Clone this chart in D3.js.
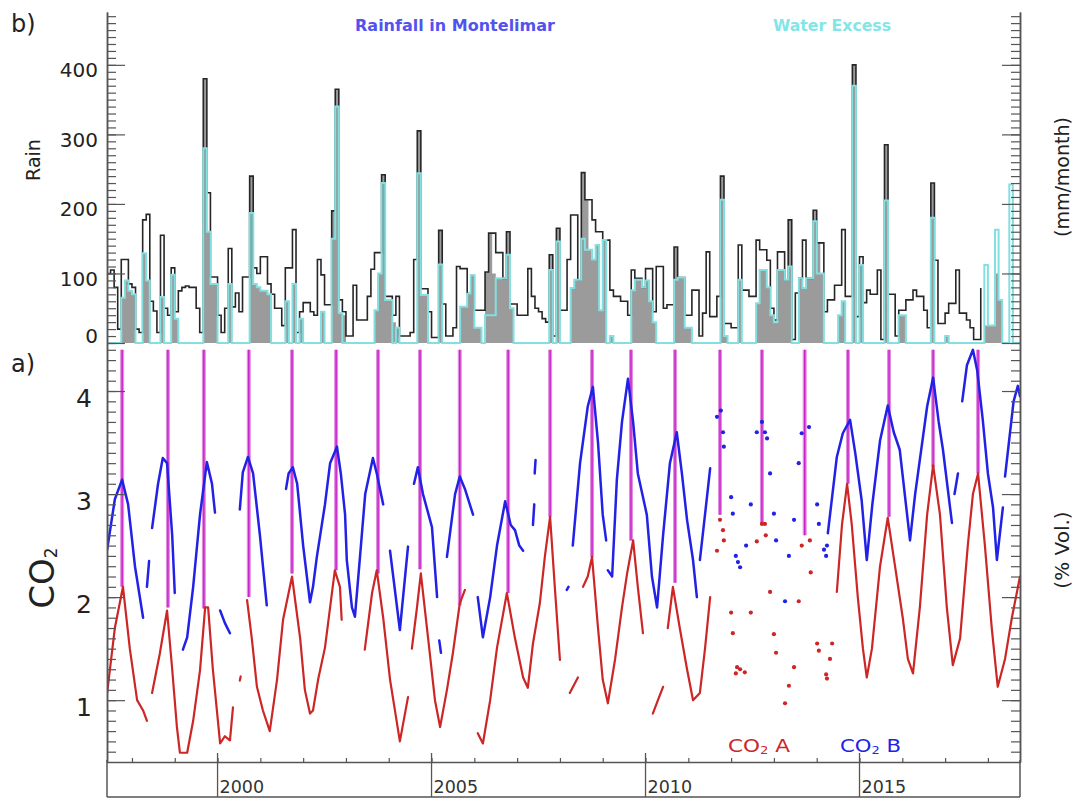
<!DOCTYPE html>
<html><head><meta charset="utf-8">
<script src="https://cdn.jsdelivr.net/npm/d3@7"></script>
<style>
body{margin:0;background:#fff}
svg{display:block}
text{font-family:"DejaVu Sans",Lato,sans-serif}
</style>
</head><body>
<svg id="c" width="1075" height="799"></svg>
<script>
// ---------------- DATA ----------------
// monthly rainfall at Montelimar, starting June 1997 (mm/month)
const rainStart = 1997 + 5/12;
const rain = [
 100,105,80,20,120,120,85,
 80,20,15,177,185,60,46,15,155,50,40,108,
 45,75,80,82,80,80,50,15,380,216,95,95,
 40,15,50,136,52,72,45,95,95,240,108,100,
 124,124,85,70,50,50,25,108,108,163,15,45,
 58,58,45,40,120,98,55,55,190,365,62,45,
 10,10,83,33,33,33,67,106,130,130,242,67,
 67,40,67,10,10,10,15,120,305,78,78,45,
 8,8,162,56,10,10,22,110,107,107,71,97,
 47,47,47,102,158,158,130,130,93,160,56,56,
 40,40,40,107,67,50,45,35,30,127,10,165,
 47,47,120,184,184,91,245,206,206,177,160,160,
 148,148,76,67,67,60,60,40,105,93,93,80,
 107,107,45,110,110,50,55,55,138,94,94,40,
 40,76,76,10,43,131,38,38,67,240,28,28,
 22,22,141,76,76,67,67,148,134,134,119,50,
 33,131,131,91,177,5,72,93,148,93,93,191,
 144,144,45,62,62,83,83,163,67,67,400,38,
 124,58,76,70,70,105,5,285,70,70,10,47,
 47,62,62,76,67,67,47,22,230,119,28,28,
 43,57,57,105,43,43,33,22,5,5,79,null,
 null,null,null,null,null,null,null,null,null
];
// monthly water excess (mm/month)
const excess = [
 0,0,0,0,65,90,75,
 70,0,0,129,90,0,0,0,66,0,0,98,
 35,0,0,0,0,0,0,0,280,160,85,85,
 0,0,0,85,0,0,0,0,0,187,85,80,
 75,75,70,0,0,0,0,60,0,85,0,35,
 0,0,0,0,0,45,0,0,150,340,43,0,
 0,0,0,0,0,0,0,0,47,100,230,62,
 62,0,22,0,0,0,0,0,244,69,69,0,
 0,0,113,0,0,0,0,0,52,52,71,97,
 22,22,0,40,40,40,93,93,93,127,50,0,
 0,0,0,0,0,0,0,0,0,105,0,146,
 0,0,0,79,91,91,150,134,134,120,141,47,
 148,0,10,0,0,0,0,0,76,91,91,80,
 90,60,30,0,0,0,0,0,91,94,94,22,
 22,0,0,0,0,0,0,0,0,206,10,0,
 0,0,91,0,0,0,0,57,105,105,80,40,
 30,105,105,91,110,0,0,93,79,93,93,175,
 100,100,0,0,0,0,40,60,0,0,370,0,
 112,0,0,0,0,0,0,205,0,0,0,40,
 40,0,0,0,0,0,0,0,180,0,0,0,
 10,0,0,0,0,0,0,0,0,0,0,112,
 25,25,163,62,0,0,228,0,0
];
// grey shaded part (mm/month)
const shaded = [
 0,0,0,0,65,90,75,
 70,0,0,129,90,0,0,0,66,0,0,98,
 35,0,0,0,0,0,0,0,380,160,85,85,
 0,0,0,85,0,0,0,0,0,240,85,80,
 75,75,70,0,0,0,0,60,0,85,0,35,
 0,0,0,0,0,45,0,0,190,365,43,40,
 0,0,0,0,0,0,0,0,47,100,242,62,
 62,30,22,0,0,0,0,0,305,69,69,0,
 0,0,162,0,0,0,0,0,52,52,71,97,
 22,22,0,102,158,100,93,93,93,160,50,0,
 0,0,0,0,0,0,0,0,0,127,0,165,
 0,0,0,79,91,91,245,206,134,120,141,47,
 148,0,10,0,0,0,0,0,76,91,91,80,
 90,60,30,0,0,0,0,0,138,94,94,22,
 22,0,0,0,0,0,0,0,0,240,10,0,
 0,0,91,0,0,0,0,57,105,105,80,40,
 30,105,105,91,177,0,0,93,79,93,93,191,
 144,100,0,0,0,0,40,60,0,0,400,0,
 112,0,0,0,0,0,0,285,0,0,0,40,
 40,0,0,0,0,0,0,0,230,0,0,0,
 10,0,0,0,0,0,0,0,0,0,0,25,
 25,25,100,62,0,0,0,0,0
];

// CO2 B (% vol.), [decimal year, value], null = gap
const co2B = [
 [1997.42,2.46],[1997.60,2.95],[1997.77,3.14],[1997.91,2.9],[1998.07,2.3],[1998.26,1.80],null,
 [1998.35,2.1],[1998.40,2.35],null,
 [1998.47,2.67],[1998.61,3.1],[1998.72,3.35],[1998.82,3.3],[1998.94,2.6],[1999.00,2.04],null,
 [1999.19,1.49],[1999.29,1.61],[1999.43,2.1],[1999.59,2.8],[1999.75,3.31],[1999.87,3.1],[1999.94,2.82],null,
 [2000.06,1.87],[2000.17,1.75],[2000.29,1.65],null,
 [2000.52,2.85],[2000.59,3.21],[2000.71,3.36],[2000.83,3.2],[2000.99,2.6],[2001.15,1.92],null,
 [2001.60,3.05],[2001.66,3.2],[2001.76,3.26],[2001.86,3.1],[2002.00,2.5],[2002.16,1.95],[2002.23,2.1],[2002.32,2.39],
 [2002.51,2.9],[2002.63,3.3],[2002.79,3.46],[2002.88,3.2],[2002.98,2.8],[2003.02,2.36],[2003.14,1.9],[2003.21,1.81],
 [2003.33,2.4],[2003.45,3.0],[2003.63,3.35],[2003.72,3.2],[2003.87,2.9],null,
 [2004.03,2.45],[2004.26,1.68],[2004.45,2.49],null,
 [2004.59,3.1],[2004.68,3.26],[2004.80,3.0],[2005.01,2.68],[2005.13,2.0],null,
 [2005.18,1.58],[2005.22,1.46],null,
 [2005.36,2.39],[2005.55,3.0],[2005.66,3.17],[2005.78,3.05],[2005.97,2.8],null,
 [2006.08,2.0],[2006.20,1.61],[2006.37,2.0],[2006.53,2.5],[2006.72,2.93],[2006.85,2.7],[2006.95,2.65],[2007.05,2.5],[2007.14,2.45],null,
 [2007.37,2.7],[2007.40,2.9],null,
 [2007.41,3.2],[2007.43,3.33],null,
 [2008.16,2.07],[2008.20,2.1],null,
 [2008.30,2.5],[2008.47,3.3],[2008.65,3.85],[2008.77,4.04],[2008.89,3.5],[2009.00,2.8],[2009.08,2.55],null,
 [2009.12,2.26],[2009.22,2.2],[2009.33,3.14],[2009.45,3.7],[2009.59,4.12],[2009.71,3.7],[2009.82,3.2],[2010.03,2.8],
 [2010.15,2.2],[2010.27,1.9],[2010.41,2.6],[2010.57,3.3],[2010.73,3.6],[2010.85,3.2],[2010.97,2.75],[2011.11,2.36],[2011.20,2.0],null,
 [2011.27,2.36],[2011.39,2.8],[2011.51,3.25],null,
 [2014.26,2.62],[2014.47,3.36],[2014.61,3.59],[2014.78,3.72],[2014.90,3.4],[2015.05,2.94],[2015.17,2.36],[2015.30,2.9],
 [2015.48,3.52],[2015.66,3.86],[2015.80,3.6],[2015.94,3.43],[2016.18,2.55],[2016.30,3.0],[2016.58,3.85],[2016.72,4.13],
 [2016.85,3.7],[2016.95,3.43],[2017.16,2.72],null,
 [2017.22,3.0],[2017.30,3.2],null,
 [2017.40,3.9],[2017.51,4.25],[2017.65,4.4],[2017.75,4.2],[2017.88,3.72],[2018.00,3.2],[2018.12,2.87],[2018.21,2.36],[2018.35,2.87],null,
 [2018.40,3.17],[2018.60,3.9],[2018.70,4.05],[2018.75,3.95]
];
// CO2 A (% vol.)
const co2A = [
 [1997.42,1.07],[1997.60,1.7],[1997.79,2.1],[1997.95,1.5],[1998.12,1.0],[1998.26,0.9],[1998.35,0.8],null,
 [1998.47,1.07],[1998.65,1.45],[1998.82,1.87],[1998.94,1.3],[1999.05,0.74],[1999.12,0.49],[1999.29,0.49],[1999.43,0.8],
 [1999.59,1.29],[1999.71,1.9],[1999.78,1.9],[1999.89,1.3],[2000.06,0.58],[2000.17,0.65],[2000.29,0.61],[2000.36,0.93],null,
 [2000.52,1.19],[2000.54,1.23],null,
 [2000.69,1.97],[2000.80,1.6],[2000.92,1.13],[2001.06,0.9],[2001.22,0.7],[2001.39,1.2],[2001.53,1.78],[2001.74,2.2],
 [2001.93,1.6],[2002.04,1.1],[2002.16,0.87],[2002.23,0.9],[2002.35,1.2],[2002.51,1.51],[2002.74,2.26],[2002.86,2.1],[2002.90,1.78],null,
 [2003.44,1.49],[2003.61,2.04],[2003.72,2.26],[2003.87,1.8],[2004.03,1.2],[2004.26,0.6],[2004.45,1.03],null,
 [2004.54,1.5],[2004.66,1.9],[2004.75,2.23],[2004.92,1.6],[2005.08,1.0],[2005.20,0.74],[2005.36,1.1],[2005.50,1.46],
 [2005.66,1.94],[2005.78,2.07],null,
 [2006.08,0.68],[2006.20,0.58],[2006.37,1.0],[2006.53,1.51],[2006.76,2.04],[2006.95,1.6],[2007.14,1.22],[2007.25,1.12],
 [2007.37,1.55],[2007.53,1.94],[2007.65,2.4],[2007.77,2.78],[2007.88,2.1],[2008.00,1.39],null,
 [2008.23,1.07],[2008.42,1.22],null,
 [2008.54,2.1],[2008.65,2.2],[2008.75,2.39],[2008.89,1.7],[2009.00,1.2],[2009.12,0.97],[2009.29,1.4],[2009.45,1.9],
 [2009.57,2.23],[2009.71,2.55],[2009.82,2.1],[2009.94,1.65],null,
 [2010.17,0.87],[2010.29,1.0],[2010.41,1.13],null,
 [2010.52,1.7],[2010.64,2.1],[2010.80,1.7],[2010.97,1.3],[2011.11,1.0],[2011.27,1.07],[2011.39,1.5],[2011.51,2.0],null,
 [2014.47,2.05],[2014.59,2.7],[2014.71,3.1],[2014.82,2.7],[2014.96,2.0],[2015.08,1.5],[2015.17,1.22],[2015.29,1.5],
 [2015.48,2.3],[2015.66,2.77],[2015.83,2.3],[2016.01,1.8],[2016.13,1.4],[2016.25,1.26],[2016.41,1.9],[2016.58,2.8],
 [2016.72,3.28],[2016.88,2.8],[2017.04,1.9],[2017.18,1.34],[2017.35,1.6],[2017.53,2.5],[2017.65,3.0],[2017.77,3.2],
 [2017.93,2.5],[2018.09,1.7],[2018.23,1.13],[2018.40,1.4],[2018.56,1.8],[2018.75,2.2]
];
// sparse measurements 2011-2014
const co2AScatter = [
 [2011.74,2.75],[2011.81,2.65],[2011.83,2.55],[2011.67,2.45],[2012.00,1.85],[2012.04,1.65],[2012.14,1.32],[2012.11,1.26],
 [2012.32,1.27],[2012.21,1.30],[2012.46,1.85],[2012.60,2.54],[2012.72,2.71],[2012.79,2.71],[2012.81,2.60],[2012.91,2.05],
 [2013.00,1.64],[2013.05,1.46],[2013.26,0.97],[2013.35,1.14],[2013.47,1.32],[2013.58,1.96],[2013.65,2.50],[2013.84,2.55],
 [2013.86,2.24],[2014.01,1.55],[2014.05,1.48],[2014.22,1.25],[2014.24,1.21],[2014.31,1.40],[2014.36,1.55]
];
const co2BScatter = [
 [2011.67,3.75],[2011.76,3.81],[2011.81,3.60],[2011.83,3.46],[2012.00,2.97],[2012.04,2.81],[2012.11,2.40],[2012.16,2.34],
 [2012.21,2.29],[2012.35,2.50],[2012.46,2.90],[2012.60,3.60],[2012.72,3.70],[2012.79,3.60],[2012.84,3.54],[2012.91,3.20],
 [2013.00,2.81],[2013.05,2.55],[2013.26,1.96],[2013.35,2.40],[2013.47,2.75],[2013.58,3.30],[2013.65,3.59],[2013.82,3.65],
 [2014.01,2.90],[2014.05,2.71],[2014.17,2.46],[2014.22,2.40],[2014.24,2.50]
];
// autumn marker lines: date and lower end (CO2 A value)
const markerDates = [1997.77,1998.84,1999.68,2000.73,2001.74,2002.77,2003.75,2004.73,2005.66,2006.79,2007.77,
                     2008.75,2009.66,2010.69,2011.74,2012.72,2013.72,2014.73,2015.69,2016.72,2017.77];
const markerEnds  = [2.1,1.9,1.89,2.0,2.23,2.26,2.23,2.27,1.92,2.04,2.78,2.39,2.55,2.14,2.8,2.72,2.6,3.1,2.78,3.26,3.2];
const markerTop = 4.40;

const rainTicks = [0,100,200,300,400];
const co2Ticks = [1,2,3,4];
const yearLabels = [2000,2005,2010,2015];

// ---------------- CHART ----------------
const svg = d3.select("#c");
const X0 = 107, X1 = 1020;
const x = d3.scaleLinear().domain([1997.4167, 2018.75]).range([X0, X1]);
const yR = d3.scaleLinear().domain([0, 476]).range([343, 12]);
const yC = d3.scaleLinear().domain([0.4, 4.466]).range([762, 343]);
const axisCol = "#555";
const FONT = "'DejaVu Sans', Lato, sans-serif";

svg.append("clipPath").attr("id","ct").append("rect").attr("x",X0).attr("y",0).attr("width",X1-X0).attr("height",346);
svg.append("clipPath").attr("id","cb").append("rect").attr("x",X0).attr("y",345).attr("width",X1-X0).attr("height",417);

// ---- top panel: rainfall ----
const n = rain.length;
const mk = arr => d3.range(n+1).map(i => ({t: rainStart + i/12, v: i < n ? arr[i] : arr[n-1]}));
const gT = svg.append("g").attr("clip-path","url(#ct)");
gT.append("path").datum(mk(shaded))
  .attr("d", d3.area().curve(d3.curveStepAfter).x(d=>x(d.t)).y0(yR(0)).y1(d=>yR(d.v)))
  .attr("fill","#9b9b9b");
gT.append("path").datum(mk(rain))
  .attr("d", d3.line().curve(d3.curveStepAfter).defined(d=>d.v!=null).x(d=>x(d.t)).y(d=>yR(d.v)))
  .attr("fill","none").attr("stroke","#262626").attr("stroke-width",1.6);
gT.append("path").datum(mk(excess))
  .attr("d", d3.line().curve(d3.curveStepAfter).x(d=>x(d.t)).y(d=>yR(d.v)))
  .attr("fill","none").attr("stroke","#84e0e0").attr("stroke-width",2);

function styleAxis(g, fs){
  g.attr("font-family",FONT);
  g.selectAll("path.domain").attr("stroke",axisCol).attr("stroke-width",1.5);
  g.selectAll(".tick line").attr("stroke",axisCol).attr("stroke-width",1.2);
  g.selectAll("text").attr("font-family",FONT).attr("font-size",fs).attr("fill","#222");
}
let g;
g = svg.append("g").attr("transform",`translate(${X0},0)`)
  .call(d3.axisLeft(yR).tickValues(d3.range(0,471,10)).tickSizeInner(-9).tickSizeOuter(0).tickFormat(""));
styleAxis(g,0);
g = svg.append("g").attr("transform",`translate(${X0},0)`)
  .call(d3.axisLeft(yR).tickValues(rainTicks).tickSizeInner(-18).tickSizeOuter(0).tickPadding(9));
styleAxis(g,20);
g.selectAll("text").attr("dy", d => d === 0 ? "-0.05em" : "0.6em");
g = svg.append("g").attr("transform",`translate(${X1},0)`)
  .call(d3.axisRight(yR).tickValues(d3.range(0,471,10)).tickSizeInner(-9).tickSizeOuter(0).tickFormat(""));
styleAxis(g,0);
g = svg.append("g").attr("transform",`translate(${X1},0)`)
  .call(d3.axisRight(yR).tickValues(rainTicks).tickSizeInner(-18).tickSizeOuter(0).tickFormat(""));
styleAxis(g,0);

// ---- bottom panel: CO2 ----
const gB = svg.append("g").attr("clip-path","url(#cb)");
markerDates.forEach((d,i)=>{
  gB.append("line").attr("x1",x(d)).attr("x2",x(d)).attr("y1",yC(markerTop)).attr("y2",yC(markerEnds[i]))
    .attr("stroke","#e08ce0").attr("stroke-width",4);
  gB.append("line").attr("x1",x(d)).attr("x2",x(d)).attr("y1",yC(markerTop)).attr("y2",yC(markerEnds[i]))
    .attr("stroke","#c81ec8").attr("stroke-width",1.4);
});
const co2Line = d3.line().defined(d=>d!=null).x(d=>x(d[0])).y(d=>yC(d[1]));
gB.append("path").datum(co2B).attr("d",co2Line).attr("fill","none").attr("stroke","#2222e6").attr("stroke-width",2.5).attr("stroke-linejoin","round").attr("stroke-linecap","round");
gB.append("path").datum(co2A).attr("d",co2Line).attr("fill","none").attr("stroke","#cc2626").attr("stroke-width",2.2).attr("stroke-linejoin","round").attr("stroke-linecap","round");
gB.selectAll("circle.b").data(co2BScatter).join("circle").attr("class","b")
  .attr("cx",d=>x(d[0])).attr("cy",d=>yC(d[1])).attr("r",2.1).attr("fill","#2222e6");
gB.selectAll("circle.a").data(co2AScatter).join("circle").attr("class","a")
  .attr("cx",d=>x(d[0])).attr("cy",d=>yC(d[1])).attr("r",2.1).attr("fill","#cc2626");

const minorC = d3.range(5,45).map(k=>k/10);
g = svg.append("g").attr("transform",`translate(${X0},0)`)
  .call(d3.axisLeft(yC).tickValues(minorC).tickSizeInner(-9).tickSizeOuter(0).tickFormat(""));
styleAxis(g,0);
g = svg.append("g").attr("transform",`translate(${X0},0)`)
  .call(d3.axisLeft(yC).tickValues(co2Ticks).tickSizeInner(-18).tickSizeOuter(0).tickPadding(15).tickFormat(d3.format("d")));
styleAxis(g,25); g.selectAll("text").attr("dy","0.6em");
g = svg.append("g").attr("transform",`translate(${X1},0)`)
  .call(d3.axisRight(yC).tickValues(minorC).tickSizeInner(-9).tickSizeOuter(0).tickFormat(""));
styleAxis(g,0);
g = svg.append("g").attr("transform",`translate(${X1},0)`)
  .call(d3.axisRight(yC).tickValues(co2Ticks).tickSizeInner(-18).tickSizeOuter(0).tickFormat(""));
styleAxis(g,0);

// x axis
g = svg.append("g").attr("transform",`translate(0,762)`)
  .call(d3.axisBottom(x).tickValues(d3.range(1998,2019)).tickSizeInner(-4).tickSizeOuter(0).tickFormat(""));
styleAxis(g,0);
svg.append("line").attr("x1",X0).attr("x2",X1).attr("y1",797).attr("y2",797).attr("stroke",axisCol).attr("stroke-width",1.5);
[X0,X1].forEach(xx=>svg.append("line").attr("x1",xx).attr("x2",xx).attr("y1",760).attr("y2",797).attr("stroke",axisCol).attr("stroke-width",1.5));
yearLabels.forEach(yv=>{
  svg.append("line").attr("x1",x(yv)).attr("x2",x(yv)).attr("y1",753).attr("y2",797).attr("stroke",axisCol).attr("stroke-width",1.3);
  svg.append("text").attr("x",x(yv)+2).attr("y",793).attr("font-size",17.5).attr("fill","#333").text(yv);
});

// ---- texts ----
const T = (xx,yy,s,fs,col,opts={}) => {
  const t = svg.append("text").attr("x",xx).attr("y",yy).attr("font-size",fs).attr("fill",col).text(s);
  if (opts.rot) t.attr("transform",`rotate(-90,${xx},${yy})`).attr("text-anchor","middle");
  if (opts.len) t.attr("textLength",opts.len).attr("lengthAdjust","spacingAndGlyphs");
  if (opts.w) t.attr("font-weight",opts.w);
  return t;
};
T(11,32,"b)",24,"#222");
T(11,372,"a)",24,"#222");
T(40,160,"Rain",19,"#222",{rot:true});
T(1069,177,"(mm/month)",19,"#222",{rot:true});
T(1069,550,"(% Vol.)",20,"#222",{rot:true});
T(355,31,"Rainfall in Montelimar",15,"#5252ee",{len:200,w:"bold"});
T(773,31,"Water Excess",15,"#82e6e6",{len:118,w:"bold"});

const co2lab = svg.append("text").attr("transform","rotate(-90,54,578)").attr("x",54).attr("y",578)
  .attr("text-anchor","middle").attr("font-size",34).attr("fill","#222");
co2lab.append("tspan").text("CO");
co2lab.append("tspan").attr("font-size",17).attr("dy",3).text("2");

function legend(xx, label, col, len){
  const t = svg.append("text").attr("x",xx).attr("y",752).attr("font-size",18).attr("fill",col)
    .attr("textLength",len).attr("lengthAdjust","spacingAndGlyphs");
  t.append("tspan").text("CO");
  t.append("tspan").attr("font-size",11).attr("dy",2).text("2");
  t.append("tspan").attr("dy",-2).text(" " + label);
}
legend(728,"A","#cc2626",62);
legend(840,"B","#2222e6",61);
</script>
</body></html>
